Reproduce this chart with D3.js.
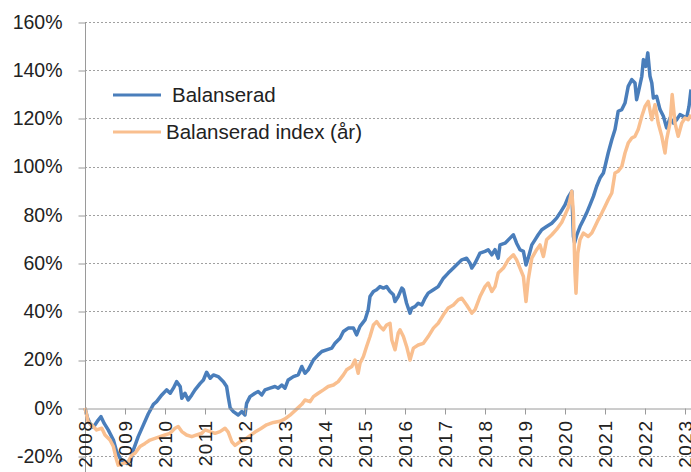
<!DOCTYPE html>
<html>
<head>
<meta charset="utf-8">
<script src="https://cdn.jsdelivr.net/npm/d3@7"></script>
<style>
  body { margin: 0; background: #fff; }
  text { font-family: "Liberation Sans", Arial, sans-serif; fill: #222; }
</style>
</head>
<body>
<svg id="chart"></svg>
<script>
// series names (legend)
const seriesNames = ["Balanserad", "Balanserad index (år)"];

// Balanserad (blue), % return since start of 2008
const balYears = [2008.00, 2008.06, 2008.125, 2008.21, 2008.33, 2008.40, 2008.48, 2008.58, 2008.71, 2008.79,
  2008.90, 2009.05, 2009.14, 2009.21, 2009.33, 2009.46, 2009.58, 2009.71, 2009.79, 2009.92,
  2010.04, 2010.13, 2010.21, 2010.29, 2010.38, 2010.42, 2010.50, 2010.58, 2010.67, 2010.75,
  2010.88, 2010.96, 2011.04, 2011.13, 2011.21, 2011.33, 2011.46, 2011.54, 2011.58, 2011.63,
  2011.71, 2011.83, 2011.92, 2012.00, 2012.04, 2012.125, 2012.25, 2012.33, 2012.42, 2012.50,
  2012.625, 2012.75, 2012.83, 2012.92, 2013.00, 2013.08, 2013.21, 2013.33, 2013.42, 2013.50,
  2013.58, 2013.71, 2013.83, 2013.92, 2014.04, 2014.17, 2014.25, 2014.375, 2014.46, 2014.58,
  2014.71, 2014.79, 2014.875, 2015.00, 2015.08, 2015.125, 2015.21, 2015.29, 2015.375, 2015.46,
  2015.54, 2015.625, 2015.71, 2015.75, 2015.83, 2015.92, 2015.96, 2016.04, 2016.125, 2016.17,
  2016.25, 2016.33, 2016.42, 2016.50, 2016.58, 2016.71, 2016.83, 2016.96, 2017.08, 2017.21,
  2017.33, 2017.42, 2017.54, 2017.625, 2017.67, 2017.75, 2017.875, 2018.00, 2018.08, 2018.17,
  2018.25, 2018.33, 2018.375, 2018.50, 2018.625, 2018.71, 2018.79, 2018.875, 2018.96, 2019.025,
  2019.08, 2019.17, 2019.25, 2019.33, 2019.42, 2019.54, 2019.67, 2019.79, 2019.875, 2020.00,
  2020.08, 2020.17, 2020.21, 2020.24, 2020.30, 2020.375, 2020.46, 2020.54, 2020.625, 2020.71,
  2020.79, 2020.875, 2020.96, 2021.00, 2021.08, 2021.17, 2021.25, 2021.33, 2021.42, 2021.50,
  2021.58, 2021.67, 2021.75, 2021.79, 2021.83, 2021.92, 2021.96, 2022.02, 2022.07, 2022.125,
  2022.17, 2022.21, 2022.29, 2022.375, 2022.46, 2022.54, 2022.625, 2022.71, 2022.79, 2022.875,
  2022.96, 2023.04, 2023.10, 2023.15];
const balValues = [0, -4, -6.4, -8.0, -5.0, -3.6, -6.4, -9.1, -13.3, -18.0,
  -21.5, -23.0, -22.0, -17.4, -11.9, -7.0, -2.5, 1.5, 2.6, 5.4,
  7.5, 6.1, 8.2, 10.9, 8.9, 4.0, 6.1, 3.3, 5.4, 7.5,
  10.2, 11.6, 14.8, 12.3, 13.7, 13.0, 10.9, 8.9, 4.7, 0,
  -1.5, -2.9, -1.5, -2.9, 1.9, 4.7, 6.1, 6.8, 5.4, 7.5,
  8.2, 8.9, 8.2, 9.5, 8.2, 11.6, 13.0, 13.7, 17.2, 14.4,
  15.8, 19.9, 22.0, 23.4, 24.1, 24.8, 26.8, 28.9, 31.7, 33.1,
  33.1, 30.3, 33.8, 36.5, 40.7, 46.2, 48.3, 49.0, 50.3, 49.7,
  50.3, 48.3, 46.9, 44.1, 46.2, 49.7, 49.0, 43.4, 39.3, 41.4,
  42.0, 43.4, 42.7, 45.5, 47.6, 49.0, 50.3, 53.8, 55.9, 58.0,
  60.0, 61.4, 62.1, 60.0, 58.0, 60.0, 64.2, 64.9, 65.6, 63.5,
  65.6, 62.1, 67.6, 68.3, 70.4, 71.8, 68.3, 65.6, 64.9, 59.3,
  62.1, 67.6, 69.7, 71.8, 73.9, 75.2, 76.6, 78.7, 80.8, 84.2,
  87.4, 89.8, 71.1, 68.5, 72.0, 75.2, 78.0, 80.8, 84.2, 87.7,
  91.8, 95.3, 97.4, 100.1, 105.7, 111.2, 115.4, 123.0, 123.7, 126.4,
  133.3, 136.1, 134.7, 127.8, 130.6, 137.5, 144.4, 141.6, 147.2, 137.5,
  134.7, 128.5, 129.2, 123.7, 120.9, 116.1, 120.2, 118.1, 119.5, 121.6,
  120.9, 120.2, 125.0, 132.0];

// Balanserad index (år) (orange)
const idxYears = [2008.00, 2008.08, 2008.17, 2008.29, 2008.42, 2008.50, 2008.625, 2008.71, 2008.79, 2008.83,
  2008.96, 2009.08, 2009.17, 2009.25, 2009.375, 2009.50, 2009.625, 2009.75, 2009.875, 2010.00,
  2010.125, 2010.25, 2010.33, 2010.42, 2010.54, 2010.67, 2010.79, 2010.92, 2011.00, 2011.125,
  2011.25, 2011.375, 2011.50, 2011.58, 2011.67, 2011.75, 2011.875, 2012.00, 2012.125, 2012.25,
  2012.40, 2012.54, 2012.71, 2012.875, 2013.00, 2013.125, 2013.29, 2013.42, 2013.50, 2013.625,
  2013.71, 2013.83, 2013.96, 2014.08, 2014.21, 2014.33, 2014.46, 2014.54, 2014.67, 2014.75,
  2014.83, 2014.875, 2014.96, 2015.04, 2015.125, 2015.21, 2015.29, 2015.375, 2015.46, 2015.54,
  2015.625, 2015.67, 2015.75, 2015.83, 2015.875, 2015.96, 2016.04, 2016.125, 2016.21, 2016.33,
  2016.46, 2016.58, 2016.71, 2016.83, 2016.96, 2017.08, 2017.21, 2017.33, 2017.42, 2017.54,
  2017.67, 2017.75, 2017.875, 2018.00, 2018.08, 2018.17, 2018.25, 2018.33, 2018.46, 2018.58,
  2018.71, 2018.79, 2018.875, 2018.96, 2019.025, 2019.08, 2019.17, 2019.29, 2019.375, 2019.46,
  2019.54, 2019.67, 2019.79, 2019.92, 2020.04, 2020.08, 2020.17, 2020.21, 2020.25, 2020.275,
  2020.32, 2020.375, 2020.46, 2020.58, 2020.67, 2020.75, 2020.83, 2020.92, 2021.00, 2021.08,
  2021.17, 2021.25, 2021.33, 2021.42, 2021.50, 2021.58, 2021.67, 2021.75, 2021.83, 2021.92,
  2022.00, 2022.08, 2022.17, 2022.25, 2022.33, 2022.42, 2022.50, 2022.54, 2022.625, 2022.68,
  2022.75, 2022.83, 2022.92, 2023.00, 2023.08, 2023.15];
const idxValues = [0, -5.7, -7.1, -9.1, -8.4, -11.2, -13.3, -16.0, -21.6, -23.7,
  -23.0, -22.3, -19.5, -18.8, -16.0, -14.7, -13.3, -12.6, -11.9, -11.2,
  -10.5, -8.4, -7.7, -9.8, -11.2, -11.9, -11.2, -10.5, -9.1, -9.8,
  -10.5, -9.8, -8.4, -10.0, -14.0, -15.5, -14.0, -13.0, -11.5, -10.0,
  -8.5, -7.0, -6.0, -5.5, -4.5, -3.0, -0.5, 1.5, 3.3, 2.6,
  4.7, 6.1, 7.5, 8.9, 9.5, 10.9, 13.7, 15.8, 17.2, 19.9,
  14.4, 18.5, 21.3, 25.5, 29.6, 34.4, 35.8, 33.8, 32.4, 34.4,
  35.1, 28.2, 24.1, 31.0, 32.4, 29.6, 25.5, 19.9, 24.8, 26.1,
  26.8, 29.6, 33.1, 35.1, 38.6, 41.4, 42.7, 44.8, 45.5, 42.7,
  39.3, 40.7, 46.2, 50.3, 51.8, 48.3, 50.3, 55.9, 58.0, 61.4,
  63.5, 61.4, 58.0, 54.5, 44.1, 53.1, 62.1, 65.6, 67.6, 62.8,
  69.7, 71.8, 74.0, 77.0, 81.5, 83.0, 89.8, 80.8, 55.9, 47.6,
  64.2, 69.7, 72.5, 71.1, 72.5, 75.2, 78.0, 80.8, 83.5, 86.3,
  89.1, 97.4, 98.1, 100.1, 105.7, 109.8, 111.9, 112.6, 115.4, 120.9,
  125.0, 127.1, 119.5, 125.7, 118.1, 112.6, 105.7, 111.2, 118.1, 129.9,
  118.1, 112.6, 118.1, 120.2, 119.5, 121.6];

const yearTicks = [2008, 2009, 2010, 2011, 2012, 2013, 2014, 2015, 2016, 2017, 2018, 2019, 2020, 2021, 2022, 2023];
const pctTicks = [-20, 0, 20, 40, 60, 80, 100, 120, 140, 160];

const width = 691, height = 472;

const svg = d3.select("#chart")
    .attr("width", width)
    .attr("height", height);

const x = d3.scaleLinear()
    .domain([2008, 2023.15])
    .range([85, 691]);

const y = d3.scaleLinear()
    .domain([-20, 160])
    .range([456.2, 22]);

// dotted gridlines
svg.append("g")
    .selectAll("line")
    .data(pctTicks.filter(d => d !== 0))
    .join("line")
        .attr("x1", 85)
        .attr("x2", width)
        .attr("y1", d => Math.round(y(d)) + 0.5)
        .attr("y2", d => Math.round(y(d)) + 0.5)
        .attr("stroke", "#a0a0a0")
        .attr("stroke-dasharray", "2,2");

// y axis
const yAxis = svg.append("g")
    .attr("transform", "translate(85.5,0)")
    .call(d3.axisLeft(y).tickValues(pctTicks).tickSize(7).tickSizeOuter(0).tickFormat(d => d + "%"));
yAxis.select(".domain").remove();
yAxis.selectAll(".tick line").attr("stroke", "#9a9a9a")
    .attr("transform", d => `translate(0,${Math.round(y(d)) + 0.5 - y(d)})`);
yAxis.selectAll(".tick text")
    .attr("x", -23)
    .style("font-size", "19.5px")
    .style("font-family", "'Liberation Sans', Arial, sans-serif")
    .attr("fill", "#222");

svg.append("line")
    .attr("x1", 85.5).attr("x2", 85.5)
    .attr("y1", 22).attr("y2", height)
    .attr("stroke", "#9a9a9a");

// x axis on the 0% line
const xAxis = svg.append("g")
    .attr("transform", `translate(0,${Math.round(y(0)) + 0.5})`)
    .call(d3.axisBottom(x).tickValues(yearTicks).tickSize(6).tickSizeOuter(0).tickFormat(d3.format("d")));
xAxis.select(".domain").attr("stroke", "#9a9a9a");
xAxis.selectAll(".tick line").attr("stroke", "#9a9a9a");

// lines
const line = d3.line()
    .x(d => x(d[0]))
    .y(d => y(d[1]));

svg.append("path")
    .datum(d3.zip(balYears, balValues))
    .attr("fill", "none")
    .attr("stroke", "#4a7ebb")
    .attr("stroke-width", 3.5)
    .attr("stroke-linejoin", "round")
    .attr("d", line);

svg.append("path")
    .datum(d3.zip(idxYears, idxValues))
    .attr("fill", "none")
    .attr("stroke", "#f9bf8f")
    .attr("stroke-width", 3.5)
    .attr("stroke-linejoin", "round")
    .attr("d", line);

// rotated year labels, drawn over the lines
xAxis.raise();
xAxis.selectAll(".tick text")
    .attr("transform", "rotate(-90)")
    .attr("text-anchor", "end")
    .attr("x", -11)
    .attr("y", 0)
    .attr("dy", "0.36em")
    .style("font-size", "19px")
    .style("letter-spacing", "1.5px")
    .style("font-family", "'Liberation Sans', Arial, sans-serif")
    .attr("fill", "#222");

// legend
const colors = ["#4a7ebb", "#f9bf8f"];
const legendY = [95, 132];
const legendTextX = [172, 166];

const legend = svg.append("g")
    .selectAll("g")
    .data(seriesNames)
    .join("g");

legend.append("line")
    .attr("x1", 113).attr("x2", 161)
    .attr("y1", (d, i) => legendY[i]).attr("y2", (d, i) => legendY[i])
    .attr("stroke", (d, i) => colors[i])
    .attr("stroke-width", 3);

legend.append("text")
    .attr("x", (d, i) => legendTextX[i])
    .attr("y", (d, i) => legendY[i])
    .attr("dy", "0.36em")
    .style("font-size", "20.5px")
    .text(d => d);
</script>
</body>
</html>
